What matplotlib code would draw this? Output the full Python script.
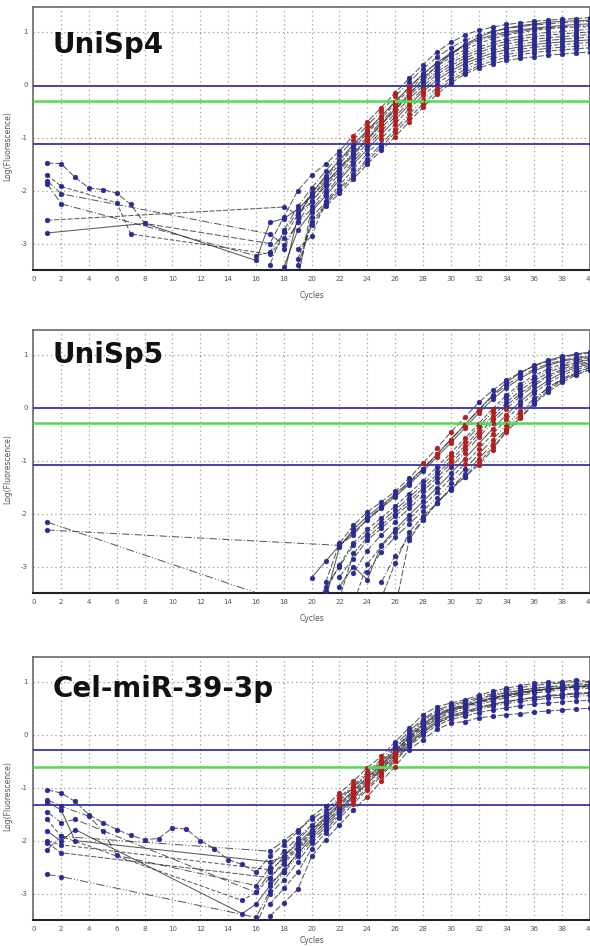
import numpy as np
import matplotlib
matplotlib.use("Agg")
import matplotlib.pyplot as plt

# ---------------- data ----------------
TITLES = ["UniSp4", "UniSp5", "Cel-miR-39-3p"]
X_TICKS = list(range(0, 41, 2))
Y_TICKS = [-3, -2, -1, 0, 1]
UPPER = [-0.03, 0.0, -0.28]     # upper blue threshold line
GREEN = [-0.31, -0.28, -0.60]   # green threshold line
LOWER = [-1.12, -1.09, -1.33]   # lower blue threshold line

# ---- panel 1: UniSp4 ----
P1_EARLY_X = [[1, 2, 3, 4, 5, 6, 7, 8], [], [], [1, 2, 6, 7], [], [1], [], [1, 2],
              [], [], [], [], [], [1, 2], [1, 8]]
P1_EARLY_Y = [[-1.48, -1.49, -1.75, -1.95, -1.98, -2.05, -2.26, -2.62], [], [],
              [-1.70, -1.92, -2.23, -2.82], [], [-2.56], [], [-1.81, -2.06],
              [], [], [], [], [], [-1.87, -2.25], [-2.80, -2.62]]
P1_START = [17, 17, 18, 17, 18, 18, 19, 17, 18, 19, 19, 19, 19, 16, 16]
P1_VALUES = [
    [-3.0, -2.5, -2.0, -1.7, -1.5, -1.25, -0.96, -0.7, -0.43, -0.15, 0.12, 0.38, 0.62, 0.8, 0.94, 1.03, 1.09, 1.14, 1.17, 1.2, 1.22, 1.24, 1.25, 1.27],
    [-3.4, -2.75, -2.3, -1.95, -1.63, -1.33, -1.04, -0.77, -0.5, -0.22, 0.05, 0.3, 0.52, 0.7, 0.84, 0.94, 1.01, 1.06, 1.1, 1.13, 1.15, 1.17, 1.19, 1.2],
    [-3.6, -2.5, -2.05, -1.72, -1.42, -1.13, -0.86, -0.59, -0.32, -0.05, 0.2, 0.42, 0.6, 0.75, 0.86, 0.94, 1.0, 1.04, 1.07, 1.1, 1.12, 1.14, 1.15],
    [-3.2, -2.9, -2.45, -2.1, -1.8, -1.5, -1.2, -0.92, -0.64, -0.36, -0.1, 0.14, 0.35, 0.52, 0.66, 0.78, 0.87, 0.94, 0.99, 1.03, 1.06, 1.08, 1.09, 1.1],
    [-3.1, -2.6, -2.2, -1.88, -1.57, -1.27, -0.98, -0.7, -0.42, -0.16, 0.08, 0.29, 0.46, 0.6, 0.71, 0.8, 0.87, 0.92, 0.96, 0.99, 1.01, 1.03, 1.05],
    [-2.31, -2.45, -2.2, -1.92, -1.62, -1.33, -1.04, -0.76, -0.48, -0.21, 0.03, 0.24, 0.41, 0.55, 0.66, 0.75, 0.82, 0.87, 0.91, 0.94, 0.96, 0.98, 1.0],
    [-3.7, -2.3, -1.98, -1.68, -1.39, -1.1, -0.82, -0.54, -0.27, -0.02, 0.19, 0.36, 0.5, 0.61, 0.7, 0.77, 0.82, 0.86, 0.89, 0.91, 0.93, 0.95],
    [-2.82, -3.03, -2.6, -2.35, -2.05, -1.75, -1.45, -1.16, -0.88, -0.6, -0.33, -0.08, 0.14, 0.31, 0.45, 0.56, 0.65, 0.72, 0.77, 0.81, 0.84, 0.86, 0.88, 0.9],
    [-3.45, -2.75, -2.4, -2.1, -1.8, -1.5, -1.22, -0.94, -0.66, -0.38, -0.13, 0.09, 0.26, 0.4, 0.51, 0.6, 0.67, 0.72, 0.76, 0.79, 0.81, 0.83, 0.85],
    [-3.1, -2.86, -2.2, -1.9, -1.6, -1.3, -1.02, -0.74, -0.46, -0.2, 0.02, 0.2, 0.35, 0.46, 0.55, 0.62, 0.67, 0.71, 0.74, 0.76, 0.78, 0.8],
    [-3.6, -2.5, -2.22, -1.96, -1.68, -1.4, -1.12, -0.84, -0.56, -0.29, -0.06, 0.13, 0.29, 0.41, 0.5, 0.57, 0.62, 0.66, 0.69, 0.71, 0.73, 0.75],
    [-3.3, -2.6, -2.25, -2.0, -1.72, -1.44, -1.18, -0.9, -0.63, -0.36, -0.12, 0.08, 0.24, 0.36, 0.45, 0.52, 0.57, 0.61, 0.64, 0.66, 0.68, 0.7],
    [-3.4, -2.65, -2.3, -2.05, -1.78, -1.5, -1.24, -0.98, -0.7, -0.42, -0.18, 0.03, 0.2, 0.32, 0.4, 0.46, 0.5, 0.53, 0.56, 0.58, 0.6, 0.62],
    [-3.23, -3.16, -2.79, -2.4, -2.05, -1.75, -1.45, -1.16, -0.88, -0.6, -0.32, -0.05, 0.2, 0.41, 0.58, 0.72, 0.83, 0.91, 0.97, 1.02, 1.05, 1.08, 1.1, 1.11, 1.12],
    [-3.32, -2.6, -2.53, -2.35, -2.1, -1.85, -1.58, -1.3, -1.02, -0.74, -0.46, -0.18, 0.1, 0.36, 0.58, 0.76, 0.9, 1.0, 1.07, 1.12, 1.15, 1.18, 1.2, 1.21, 1.22],
]

# ---- panel 2: UniSp5 ----
P2_EARLY_X = [[], [1], [], [], [1], [], [], [], [], [], [], [], [], [], []]
P2_EARLY_Y = [[], [-2.31], [], [], [-2.16], [], [], [], [], [], [], [], [], [], []]
P2_START = [21, 22, 20, 21, 20, 22, 22, 23, 22, 23, 24, 25, 26, 25, 21]
P2_VALUES = [
    [-3.3, -2.56, -2.22, -1.97, -1.78, -1.58, -1.33, -1.05, -0.76, -0.46, -0.18, 0.1, 0.33, 0.52, 0.67, 0.79, 0.88, 0.95, 1.0, 1.04],
    [-2.6, -2.4, -2.1, -1.88, -1.65, -1.42, -1.16, -0.88, -0.6, -0.32, -0.04, 0.22, 0.43, 0.6, 0.73, 0.83, 0.9, 0.95, 0.99],
    [-3.21, -2.9, -2.6, -2.35, -2.12, -1.9, -1.68, -1.45, -1.2, -0.93, -0.66, -0.38, -0.1, 0.16, 0.38, 0.56, 0.7, 0.8, 0.88, 0.93, 0.97],
    [-3.47, -2.97, -2.55, -2.3, -2.08, -1.86, -1.62, -1.38, -1.12, -0.85, -0.58, -0.3, -0.02, 0.24, 0.45, 0.61, 0.74, 0.83, 0.9, 0.95],
    [-3.85, -3.39, -3.0, -2.6, -2.38, -2.15, -1.93, -1.7, -1.45, -1.19, -0.92, -0.64, -0.36, -0.08, 0.18, 0.4, 0.57, 0.7, 0.8, 0.87, 0.92],
    [-3.6, -2.75, -2.45, -2.22, -2.0, -1.76, -1.52, -1.26, -0.99, -0.72, -0.44, -0.16, 0.1, 0.33, 0.52, 0.66, 0.77, 0.85, 0.91],
    [-3.19, -2.85, -2.5, -2.28, -2.05, -1.82, -1.58, -1.32, -1.05, -0.78, -0.5, -0.22, 0.04, 0.27, 0.46, 0.61, 0.73, 0.82, 0.88],
    [-3.12, -2.7, -2.4, -2.15, -1.9, -1.66, -1.4, -1.12, -0.85, -0.56, -0.28, -0.02, 0.22, 0.42, 0.58, 0.7, 0.79, 0.86],
    [-3.38, -3.0, -3.25, -2.6, -2.3, -2.03, -1.77, -1.51, -1.24, -0.96, -0.68, -0.4, -0.13, 0.12, 0.34, 0.52, 0.66, 0.76, 0.83],
    [-3.7, -2.95, -2.62, -2.35, -2.1, -1.85, -1.6, -1.33, -1.06, -0.78, -0.5, -0.22, 0.05, 0.28, 0.47, 0.61, 0.72, 0.8],
    [-3.1, -2.73, -2.44, -2.2, -1.95, -1.7, -1.43, -1.16, -0.88, -0.6, -0.32, -0.06, 0.18, 0.38, 0.53, 0.64, 0.72],
    [-3.6, -2.94, -2.35, -2.05, -1.8, -1.55, -1.3, -1.04, -0.75, -0.46, -0.18, 0.1, 0.34, 0.52, 0.66, 0.76],
    [-3.8, -2.5, -2.12, -1.8, -1.52, -1.31, -1.08, -0.8, -0.42, -0.2, 0.08, 0.3, 0.48, 0.62, 0.72],
    [-3.3, -2.8, -2.45, -2.1, -1.8, -1.52, -1.25, -0.97, -0.68, -0.4, -0.12, 0.15, 0.38, 0.55, 0.68, 0.77],
    [-3.6, -2.63, -2.3, -2.05, -1.85, -1.63, -1.4, -1.15, -0.88, -0.6, -0.32, -0.04, 0.24, 0.48, 0.66, 0.8, 0.9, 0.97, 1.02, 1.05],
]

# ---- panel 3: Cel-miR-39-3p ----
P3_EARLY_X = [list(range(1, 16)), [1, 2, 4, 5, 6], [1, 2, 3], [1, 2], [1, 2], [1, 2], [],
              [1, 2, 3], [1, 2, 3], [1, 2], [1, 2], [], [], []]
P3_EARLY_Y = [[-1.04, -1.10, -1.26, -1.51, -1.66, -1.79, -1.90, -1.98, -1.96, -1.76, -1.78, -2.00, -2.15, -2.36, -2.45],
              [-1.23, -1.35, -1.54, -1.82, -2.28], [-1.27, -1.42, -2.00], [-1.60, -1.92],
              [-2.64, -2.68], [-2.04, -2.23], [], [-1.46, -1.66, -1.60], [-1.82, -2.01, -1.79],
              [-2.01, -2.08], [-2.17, -1.92], [], [], []]
P3_START = [16, 16, 17, 15, 16, 17, 17, 16, 15, 17, 17, 17, 16, 17]
P3_VALUES = [
    [-2.6, -2.3, -2.08, -1.83, -1.55, -1.35, -1.1, -0.88, -0.62, -0.41, -0.13, 0.13, 0.38, 0.53, 0.6, 0.66, 0.75, 0.82, 0.88, 0.93, 0.97, 0.99, 1.0, 1.04, 1.0],
    [-2.85, -2.5, -2.2, -1.95, -1.7, -1.48, -1.22, -0.98, -0.74, -0.5, -0.25, 0.02, 0.27, 0.44, 0.54, 0.6, 0.68, 0.75, 0.8, 0.84, 0.88, 0.9, 0.92, 0.94, 0.95],
    [-2.4, -2.3, -2.05, -1.8, -1.55, -1.3, -1.05, -0.8, -0.56, -0.3, -0.04, 0.2, 0.38, 0.48, 0.55, 0.63, 0.7, 0.76, 0.8, 0.84, 0.87, 0.89, 0.91, 0.92],
    [-3.13, -2.98, -2.7, -2.45, -2.15, -1.9, -1.65, -1.4, -1.14, -0.88, -0.62, -0.36, -0.1, 0.14, 0.32, 0.44, 0.52, 0.6, 0.67, 0.73, 0.78, 0.82, 0.85, 0.88, 0.9, 0.91],
    [-3.45, -2.95, -2.6, -2.3, -2.0, -1.75, -1.48, -1.2, -0.95, -0.7, -0.44, -0.17, 0.05, 0.22, 0.33, 0.4, 0.48, 0.54, 0.59, 0.63, 0.66, 0.69, 0.71, 0.73, 0.74],
    [-2.7, -2.4, -2.12, -1.85, -1.6, -1.35, -1.1, -0.85, -0.6, -0.33, -0.07, 0.17, 0.35, 0.46, 0.53, 0.62, 0.69, 0.75, 0.8, 0.84, 0.87, 0.89, 0.92, 0.93],
    [-3.43, -3.17, -2.92, -2.3, -1.98, -1.7, -1.42, -1.17, -0.88, -0.6, -0.28, -0.09, 0.1, 0.22, 0.25, 0.32, 0.35, 0.38, 0.4, 0.43, 0.45, 0.47, 0.49, 0.5],
    [-2.98, -2.6, -2.3, -2.0, -1.72, -1.5, -1.25, -1.0, -0.76, -0.52, -0.27, 0.0, 0.24, 0.4, 0.5, 0.57, 0.66, 0.73, 0.79, 0.84, 0.88, 0.91, 0.93, 0.96, 0.96],
    [-3.38, -3.2, -2.85, -2.55, -2.25, -1.95, -1.7, -1.44, -1.18, -0.92, -0.66, -0.4, -0.14, 0.08, 0.26, 0.37, 0.44, 0.52, 0.58, 0.63, 0.67, 0.7, 0.73, 0.75, 0.77, 0.78],
    [-2.55, -2.35, -2.1, -1.82, -1.58, -1.32, -1.07, -0.82, -0.58, -0.32, -0.05, 0.2, 0.37, 0.47, 0.54, 0.62, 0.69, 0.74, 0.79, 0.83, 0.86, 0.88, 0.9, 0.91],
    [-2.2, -2.0, -1.8, -1.6, -1.42, -1.18, -0.95, -0.7, -0.47, -0.2, 0.07, 0.3, 0.47, 0.56, 0.63, 0.71, 0.78, 0.84, 0.89, 0.93, 0.96, 0.98, 1.01, 0.99],
    [-3.2, -2.9, -2.6, -2.15, -1.85, -1.58, -1.3, -1.04, -0.78, -0.5, -0.22, 0.0, 0.18, 0.29, 0.35, 0.42, 0.47, 0.51, 0.55, 0.58, 0.6, 0.62, 0.64, 0.65],
    [-3.6, -3.0, -2.75, -2.4, -2.05, -1.8, -1.52, -1.25, -1.0, -0.74, -0.47, -0.2, 0.04, 0.23, 0.35, 0.42, 0.5, 0.56, 0.62, 0.67, 0.71, 0.74, 0.77, 0.79, 0.8],
    [-2.8, -2.6, -2.2, -1.9, -1.65, -1.4, -1.15, -0.9, -0.65, -0.38, -0.1, 0.12, 0.3, 0.41, 0.48, 0.57, 0.64, 0.7, 0.75, 0.79, 0.82, 0.85, 0.87, 0.88],
]

PANELS = [
    (P1_EARLY_X, P1_EARLY_Y, P1_START, P1_VALUES),
    (P2_EARLY_X, P2_EARLY_Y, P2_START, P2_VALUES),
    (P3_EARLY_X, P3_EARLY_Y, P3_START, P3_VALUES),
]

# ---------------- style ----------------
NAVY = "#2b2b94"
RED = "#b41e1e"
GREENC = "#55d855"
BLUE_LINE = "#3535b0"
LINE_C = "#262626"
STYLES = [(0, (6, 2)), (0, (7, 2, 1, 2)), "-", (0, (4, 2)), (0, (8, 2, 1, 2, 1, 2)), (0, (5, 1.5))]

W, H = 590, 946
fig = plt.figure(figsize=(W / 100, H / 100), dpi=100)
fig.patch.set_facecolor("white")

AX_LEFT = 33.3
AX_BOTTOMS = [270, 593, 920]   # pixel rows of the bottom frame
AX_HEIGHT = 263
TITLE_BASE = [0.825, 0.875, 0.849]
XLABEL_Y = [-0.08, -0.08, -0.062]

for p, (ex_all, ey_all, starts, values) in enumerate(PANELS):
    ax = fig.add_axes([AX_LEFT / W, (H - AX_BOTTOMS[p]) / H, (W - AX_LEFT) / W, AX_HEIGHT / H])
    ax.set_xlim(0, 40)
    ax.set_ylim(-3.5, 1.47)
    ax.set_xticks(X_TICKS)
    ax.set_xticklabels([str(t) for t in X_TICKS])
    ax.set_yticks(Y_TICKS)
    ax.set_yticklabels([str(t) for t in Y_TICKS])
    ax.tick_params(length=0, labelsize=5, labelcolor="#555555", pad=4)
    ax.grid(True, ls=(0, (1, 2.5)), color="#9a9a9a", lw=0.9)
    ax.set_axisbelow(True)
    for s in ax.spines.values():
        s.set_color("#6a6a6a")
        s.set_linewidth(1.2)
    ax.spines["bottom"].set_color("#222222")
    ax.spines["bottom"].set_linewidth(1.5)

    ax.set_xlabel("Cycles", fontsize=5.5, color="#555555")
    ax.xaxis.set_label_coords(0.5, XLABEL_Y[p])
    ax.set_ylabel("Log(Fluorescence)", fontsize=5.5, color="#555555")
    ax.yaxis.set_label_coords(-0.038, 0.47)

    for i in range(len(values)):
        ex = np.array(ex_all[i], dtype=float)
        ey = np.array(ey_all[i], dtype=float)
        ax_ = np.arange(starts[i], starts[i] + len(values[i]), dtype=float)
        ay = np.array(values[i], dtype=float)
        x = np.concatenate([ex, ax_])
        y = np.concatenate([ey, ay])
        ax.plot(x, y, color=LINE_C, lw=0.75, ls=STYLES[i % len(STYLES)], alpha=0.75, zorder=2)
        red = (ay > LOWER[p]) & (ay < UPPER[p])
        ax.plot(ex, ey, "o", ls="none", color=NAVY, ms=3.5, mec=NAVY, mew=0.3, zorder=4)
        ax.plot(ax_[~red], ay[~red], "o", ls="none", color=NAVY, ms=3.5, mec=NAVY, mew=0.3, zorder=4)
        ax.plot(ax_[red], ay[red], "o", ls="none", color=RED, ms=3.5, mec=RED, mew=0.3, zorder=4)
        g = GREEN[p]
        for j in range(len(ax_) - 1):
            if (ay[j] - g) * (ay[j + 1] - g) < 0:
                xc = ax_[j] + (g - ay[j]) / (ay[j + 1] - ay[j])
                ax.plot([xc], [g], "o", ls="none", color=GREENC, ms=2.4, mec="none", zorder=5)

    ax.axhline(UPPER[p], color=BLUE_LINE, lw=1.3, zorder=3)
    ax.axhline(GREEN[p], color=GREENC, lw=1.8, zorder=3)
    ax.axhline(LOWER[p], color=BLUE_LINE, lw=1.3, zorder=3)

    ax.text(0.035, TITLE_BASE[p], TITLES[p], transform=ax.transAxes, fontsize=20,
            fontweight="bold", color="#111111", ha="left", va="baseline", zorder=6,
            family="DejaVu Sans")

fig.savefig("out.png", dpi=100, facecolor="white")
